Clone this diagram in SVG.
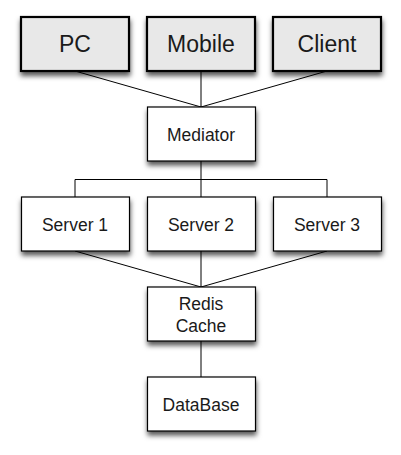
<svg xmlns="http://www.w3.org/2000/svg" width="401" height="455" viewBox="0 0 401 455">
<defs>
<filter id="sh" x="-20%" y="-20%" width="140%" height="160%">
<feDropShadow dx="0.5" dy="4" stdDeviation="2.5" flood-color="#000" flood-opacity="0.65"/>
</filter>
<style>
.top rect{fill:#e8e8e8;stroke:#000;stroke-width:2.2;filter:url(#sh)}
.box rect{fill:#fff;stroke:#000;stroke-width:1.2;filter:url(#sh)}
text{font-family:"Liberation Sans",Arial,Helvetica,sans-serif;text-anchor:middle;fill:#1a1a1a}
.top text{font-size:23px}
.box text{font-size:17.5px}
.conn line,.conn path{stroke:#000;stroke-width:1;fill:none}
</style>
</defs>
<rect width="401" height="455" fill="#fff"/>
<g class="conn">
<line x1="75" y1="71" x2="201" y2="107"/>
<line x1="201" y1="71" x2="201" y2="107"/>
<line x1="327" y1="71" x2="201" y2="107"/>
<path d="M201 161V179.5M75 197V179.5H327V197M201 179.5V197"/>
<line x1="75" y1="251" x2="201" y2="287"/>
<line x1="201" y1="251" x2="201" y2="287"/>
<line x1="327" y1="251" x2="201" y2="287"/>
<line x1="201" y1="341" x2="201" y2="377"/>
</g>
<g id="pc" class="top"><rect x="21" y="17" width="108" height="54"/><text x="75" y="52">PC</text></g>
<g id="mobile" class="top"><rect x="147" y="17" width="108" height="54"/><text x="201" y="52">Mobile</text></g>
<g id="client" class="top"><rect x="273" y="17" width="108" height="54"/><text x="327" y="52">Client</text></g>
<g id="mediator" class="box"><rect x="147.5" y="107" width="108" height="54"/><text x="201" y="140.5">Mediator</text></g>
<g id="server1" class="box"><rect x="21.5" y="197" width="108" height="54"/><text x="75" y="231">Server 1</text></g>
<g id="server2" class="box"><rect x="147.5" y="197" width="108" height="54"/><text x="201" y="231">Server 2</text></g>
<g id="server3" class="box"><rect x="273.5" y="197" width="108" height="54"/><text x="327" y="231">Server 3</text></g>
<g id="redis" class="box"><rect x="147.5" y="287" width="108" height="54"/><text x="201" y="310">Redis</text><text x="201" y="331.5">Cache</text></g>
<g id="database" class="box"><rect x="147.5" y="377" width="108" height="54"/><text x="201" y="410.5">DataBase</text></g>
</svg>
